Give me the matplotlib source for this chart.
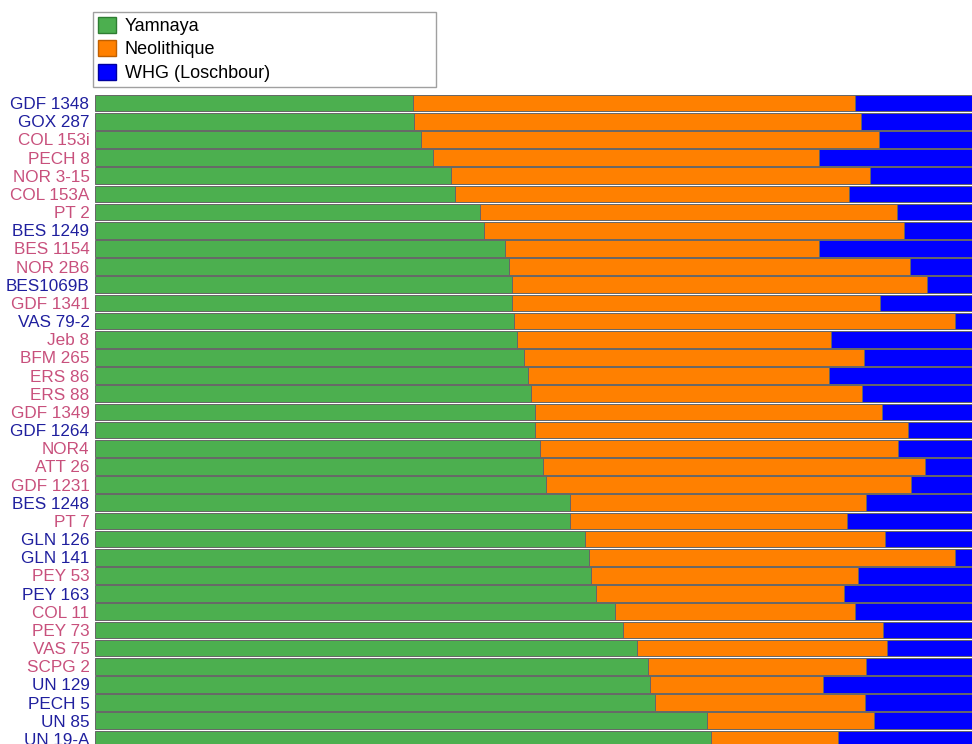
import matplotlib.pyplot as plt
from matplotlib.patches import Patch

plt.rcParams['font.family'] = ['Liberation Sans', 'DejaVu Sans']

# samples, top to bottom
samples = [
    "GDF 1348", "GOX 287", "COL 153i", "PECH 8", "NOR 3-15", "COL 153A",
    "PT 2", "BES 1249", "BES 1154", "NOR 2B6", "BES1069B", "GDF 1341",
    "VAS 79-2", "Jeb 8", "BFM 265", "ERS 86", "ERS 88", "GDF 1349",
    "GDF 1264", "NOR4", "ATT 26", "GDF 1231", "BES 1248", "PT 7",
    "GLN 126", "GLN 141", "PEY 53", "PEY 163", "COL 11", "PEY 73",
    "VAS 75", "SCPG 2", "UN 129", "PECH 5", "UN 85", "UN 19-A",
]

# sex of each sample (label colour): M = blue, F = pink
sex = [
    "M", "M", "F", "F", "F", "F",
    "F", "M", "F", "F", "M", "F",
    "M", "F", "F", "F", "F", "F",
    "M", "F", "F", "F", "M", "F",
    "M", "M", "F", "M", "F", "F",
    "F", "F", "M", "M", "M", "M",
]

# ancestry proportions (%)
yamnaya = [
    36.1, 36.2, 37.1, 38.4, 40.4, 40.9,
    43.8, 44.2, 46.6, 47.0, 47.4, 47.4,
    47.6, 48.0, 48.8, 49.2, 49.6, 50.0,
    50.0, 50.6, 50.9, 51.3, 54.0, 54.0,
    55.7, 56.1, 56.4, 56.9, 59.1, 60.0,
    61.6, 62.8, 63.1, 63.6, 69.5, 70.0,
]
neolithique = [
    50.3, 50.9, 52.0, 43.9, 47.7, 44.8,
    47.3, 47.7, 35.7, 45.6, 47.1, 41.8,
    50.1, 35.6, 38.6, 34.2, 37.6, 39.4,
    42.4, 40.6, 43.4, 41.4, 33.6, 31.5,
    34.1, 41.6, 30.3, 28.2, 27.3, 29.5,
    28.4, 24.8, 19.6, 23.9, 19.0, 14.4,
]
whg = [
    13.6, 12.9, 10.9, 17.7, 11.9, 14.3,
    8.9, 8.1, 17.7, 7.4, 5.5, 10.8,
    2.3, 16.4, 12.6, 16.6, 12.8, 10.6,
    7.6, 8.8, 5.7, 7.3, 12.4, 14.5,
    10.2, 2.3, 13.3, 14.9, 13.6, 10.5,
    10.0, 12.4, 17.3, 12.5, 11.5, 15.6,
]

GREEN = "#4caf4f"
ORANGE = "#ff8000"
BLUE = "#0000ff"
label_colors = {"M": "#1f1f9e", "F": "#c8507c"}

fig = plt.figure(figsize=(9.72, 7.44), dpi=100)
ax = fig.add_axes([95 / 972, -4 / 744, 880 / 972, 654 / 744])

y = list(range(len(samples)))
left2 = [a + b for a, b in zip(yamnaya, neolithique)]
kw = dict(height=0.92, edgecolor="#666666", linewidth=0.7)
ax.barh(y, yamnaya, color=GREEN, **kw)
ax.barh(y, neolithique, left=yamnaya, color=ORANGE, **kw)
ax.barh(y, whg, left=left2, color=BLUE, **kw)

ax.set_xlim(0, 100)
ax.set_ylim(len(samples) - 0.5, -0.5)
ax.set_yticks(y)
ax.set_yticklabels(samples, fontsize=12.3)
for lbl, s in zip(ax.get_yticklabels(), sex):
    lbl.set_color(label_colors[s])
ax.tick_params(axis="y", length=0, pad=4)
ax.set_xticks([])
for sp in ax.spines.values():
    sp.set_visible(False)

handles = [
    Patch(facecolor=GREEN, edgecolor="#2e7d32", label="Yamnaya"),
    Patch(facecolor=ORANGE, edgecolor="#c06000", label="Neolithique"),
    Patch(facecolor=BLUE, edgecolor="#0000a0", label="WHG (Loschbour)"),
]
leg = fig.legend(handles=handles, loc="upper left",
                 bbox_to_anchor=(93 / 972, 1 - 85 / 744, 343 / 972, 73 / 744),
                 mode="expand", fontsize=13, frameon=True, fancybox=False,
                 handlelength=1.0, handleheight=1.0, handletextpad=0.5,
                 labelspacing=0.3, borderpad=0.25, borderaxespad=0)
leg.get_frame().set_edgecolor("#888888")
leg.get_frame().set_linewidth(1.0)

fig.savefig("out.png", dpi=100)
